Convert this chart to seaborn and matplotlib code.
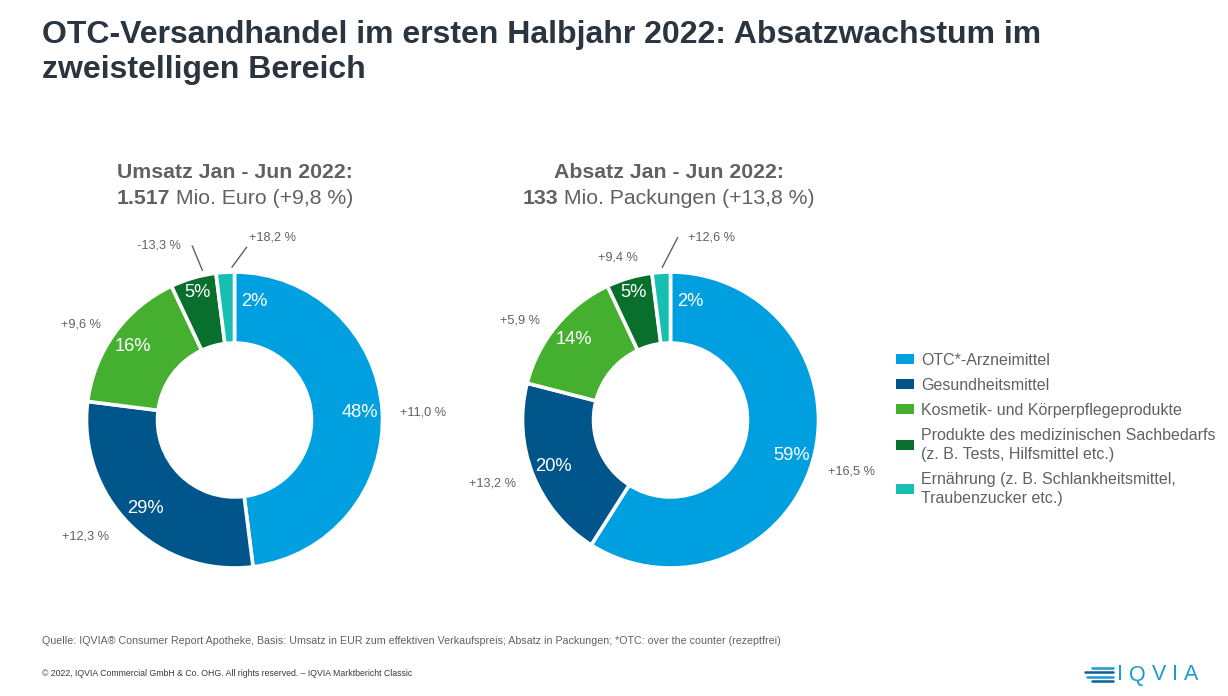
import numpy as np
import pandas as pd
import seaborn as sns
import matplotlib
matplotlib.use("Agg")
import matplotlib.pyplot as plt
from matplotlib.patches import Patch
from matplotlib.lines import Line2D

# ---------------- data ----------------
categories = [
    "OTC*-Arzneimittel",
    "Gesundheitsmittel",
    "Kosmetik- und Körperpflegeprodukte",
    "Produkte des medizinischen Sachbedarfs\n(z. B. Tests, Hilfsmittel etc.)",
    "Ernährung (z. B. Schlankheitsmittel,\nTraubenzucker etc.)",
]
umsatz_share = [48, 29, 16, 5, 2]
absatz_share = [59, 20, 14, 5, 2]
umsatz_growth = ["+11,0 %", "+12,3 %", "+9,6 %", "-13,3 %", "+18,2 %"]
absatz_growth = ["+16,5 %", "+13,2 %", "+5,9 %", "+9,4 %", "+12,6 %"]
umsatz_total = "1.517"
absatz_total = "133"
umsatz_rest = " Mio. Euro (+9,8 %)"
absatz_rest = " Mio. Packungen (+13,8 %)"

df = pd.DataFrame({"category": categories, "umsatz": umsatz_share,
                   "absatz": absatz_share,
                   "g_umsatz": umsatz_growth, "g_absatz": absatz_growth})

# ---------------- style ----------------
sns.set_theme(style="white")
plt.rcParams["font.family"] = ["Liberation Sans", "DejaVu Sans"]
palette = sns.color_palette(["#009fdf", "#00558a", "#45b02f", "#08702c", "#16bfb2"])
GREY = "#5f6164"
TITLE = "#2a3540"
LOGO = "#1a9ad6"

W, H = 1228, 696
fig = plt.figure(figsize=(W / 100, H / 100), dpi=100)
fig.patch.set_facecolor("white")

R_PX = 148.0          # outer radius in pixels
AX_PX = 440.0         # axes size in pixels


def make_ax(cx, cy):
    ax = fig.add_axes([(cx - AX_PX / 2) / W, (H - cy - AX_PX / 2) / H, AX_PX / W, AX_PX / H])
    ax.axis("off")
    return ax


def fix_limits(ax):
    lim = AX_PX / 2 / R_PX
    ax.set_xlim(-lim, lim)
    ax.set_ylim(-lim, lim)
    ax.set_aspect("equal")


# label layout (radius, angle offset in degrees) for inner percentages
inner_r = [0.85, 0.85, 0.85, 0.90, 0.81]
inner_off = [0, 0, 0, 0, -13]


def donut(ax, col, gcol, growth_pos, leaders):
    wedges, _ = ax.pie(df[col], colors=palette, startangle=90, counterclock=False,
                       radius=1.0,
                       wedgeprops=dict(width=0.48, edgecolor="white", linewidth=2.6))
    fix_limits(ax)
    for i, w in enumerate(wedges):
        mid = np.deg2rad((w.theta1 + w.theta2) / 2 + inner_off[i])
        r = inner_r[i]
        ax.text(r * np.cos(mid), r * np.sin(mid), f"{df[col][i]}%", color="white",
                fontsize=13.2, ha="center", va="center")
    for i, (x, y) in enumerate(growth_pos):
        ax.text(x, y, df[gcol][i], color=GREY, fontsize=9.2, ha="center", va="center")
    for i, frac, (x, y) in leaders:
        w = wedges[i]
        ang = np.deg2rad(w.theta1 + frac * (w.theta2 - w.theta1))
        ax.plot([1.03 * np.cos(ang), x], [1.03 * np.sin(ang), y], color=GREY, lw=1.0,
                solid_capstyle="butt", clip_on=False)


ax1 = make_ax(234.5, 420)
donut(ax1, "umsatz", "g_umsatz",
      growth_pos=[(1.277, 0.054), (-1.01, -0.79), (-1.037, 0.642), (-0.51, 1.176), (0.26, 1.236)],
      leaders=[(3, 0.27, (-0.287, 1.18)), (4, 0.15, (0.084, 1.17))])

ax2 = make_ax(670.5, 420)
donut(ax2, "absatz", "g_absatz",
      growth_pos=[(1.22, -0.351), (-1.2, -0.432), (-1.017, 0.669), (-0.355, 1.095), (0.28, 1.236)],
      leaders=[(4, 0.44, (0.05, 1.236))])

# ---------------- titles ----------------
fig.text(42 / W, 1 - 20 / H, "OTC-Versandhandel im ersten Halbjahr 2022: Absatzwachstum im\nzweistelligen Bereich",
         color=TITLE, fontsize=23, fontweight="bold", ha="left", va="top", linespacing=1.2)

renderer = fig.canvas.get_renderer()


def mixed_line(xc, y, parts, size):
    texts = [fig.text(0, 1 - y / H, s, fontsize=size, fontweight=wt, color=GREY,
                      ha="left", va="center") for s, wt in parts]
    widths = [t.get_window_extent(renderer).width for t in texts]
    x = xc - sum(widths) / 2
    for t, wd in zip(texts, widths):
        t.set_x(x / W)
        x += wd


fig.text(234.5 / W, 1 - 172 / H, "Umsatz Jan - Jun 2022:", fontsize=15.3, fontweight="bold",
         color=GREY, ha="center", va="center")
mixed_line(234.5, 198, [(umsatz_total, "bold"), (umsatz_rest, "normal")], 15.3)
fig.text(669 / W, 1 - 172 / H, "Absatz Jan - Jun 2022:", fontsize=15.3, fontweight="bold",
         color=GREY, ha="center", va="center")
mixed_line(669, 198, [(absatz_total, "bold"), (absatz_rest, "normal")], 15.3)

# ---------------- legend ----------------
handles = [Patch(facecolor=c, edgecolor="none") for c in palette]
leg = fig.legend(handles, categories, loc="upper left", bbox_to_anchor=(896 / W, 1 - 353 / H),
                 frameon=False, fontsize=11.5, handlelength=1.1, handleheight=0.6,
                 handletextpad=0.45, labelspacing=0.62, borderaxespad=0, borderpad=0)
for t in leg.get_texts():
    t.set_color(GREY)
    t.set_linespacing(1.35)

# ---------------- footer ----------------
fig.text(42 / W, 1 - 641 / H,
         "Quelle: IQVIA® Consumer Report Apotheke, Basis: Umsatz in EUR zum effektiven Verkaufspreis; "
         "Absatz in Packungen; *OTC: over the counter (rezeptfrei)",
         fontsize=7.7, color=GREY, ha="left", va="center")
fig.text(42 / W, 1 - 674 / H,
         "© 2022, IQVIA Commercial GmbH & Co. OHG. All rights reserved. – IQVIA Marktbericht Classic",
         fontsize=6.35, color="#3a3a3a", ha="left", va="center")

# logo
x = 1117.0
for ch in "IQVIA":
    t = fig.text(x / W, 1 - 675 / H, ch, fontsize=15.5, color=LOGO, ha="left", va="center")
    x += t.get_window_extent(renderer).width + 6
for k, (x0, x1) in enumerate([(1092, 1113), (1085, 1113), (1087, 1113), (1092, 1113)]):
    yy = 1 - (668 + k * 4.3) / H
    fig.add_artist(Line2D([x0 / W, x1 / W], [yy, yy], color=LOGO if k % 2 == 0 else "#0f5f8f",
                          lw=1.8, transform=fig.transFigure))

fig.savefig("out.png", dpi=100, facecolor="white")
